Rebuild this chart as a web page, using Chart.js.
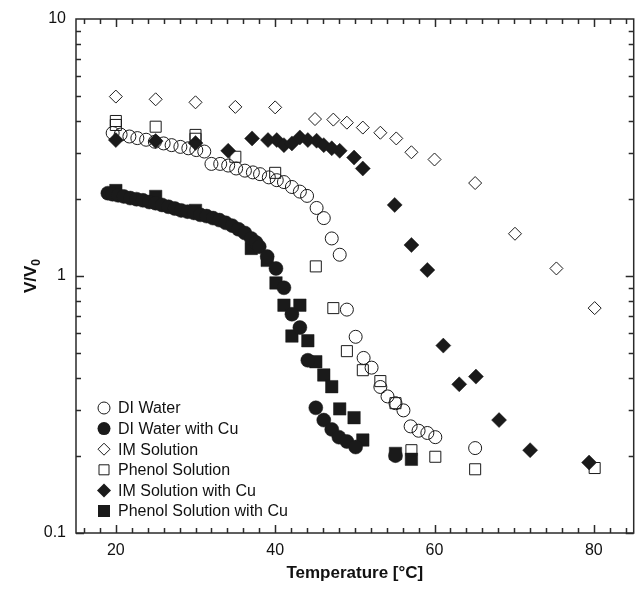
<!DOCTYPE html>
<html><head><meta charset="utf-8">
<script src="https://cdn.jsdelivr.net/npm/chart.js@4/dist/chart.umd.min.js"></script>
<style>html,body{margin:0;padding:0;background:#fff}#wrap{width:643px;height:589px}</style>
</head><body><div id="wrap"><canvas id="c" width="643" height="589"></canvas></div>
<script>
// ---- data ----
const seriesNames = ["DI Water","DI Water with Cu","IM Solution","Phenol Solution","IM Solution with Cu","Phenol Solution with Cu"];
const xTickValues = [20,40,60,80];
const yTickValues = [0.1,1,10];

const tempDI = [19.6,20.6,21.7,22.7,23.8,24.9,26.0,27.0,28.1,29.1,30.1,31.1,32.0,33.1,34.1,35.1,36.2,37.2,38.1,39.2,40.2,41.1,42.1,43.1,44.0,45.2,46.1,47.1,48.1,49.0,50.1,51.1,52.1,53.2,54.1,55.1,56.1,57.0,58.0,59.1,60.1,65.1];
const vDI    = [3.60,3.55,3.49,3.44,3.39,3.33,3.28,3.23,3.18,3.14,3.09,3.05,2.73,2.73,2.69,2.62,2.57,2.53,2.49,2.42,2.36,2.32,2.22,2.13,2.05,1.84,1.68,1.40,1.21,0.74,0.58,0.48,0.44,0.37,0.34,0.32,0.30,0.26,0.25,0.245,0.236,0.214];

const tempDICu = [19.0,19.6,20.3,21.0,21.8,22.6,23.4,24.2,25.0,25.8,26.6,27.4,28.2,29.0,29.8,30.6,31.4,32.2,33.0,33.8,34.6,35.4,36.2,37.0,37.6,38.0,39.0,40.1,41.1,42.1,43.1,44.1,45.1,46.1,47.1,48.0,49.0,50.1,55.1];
const vDICu    = [2.10,2.08,2.06,2.04,2.01,1.99,1.97,1.94,1.92,1.89,1.86,1.83,1.80,1.78,1.76,1.73,1.71,1.68,1.65,1.61,1.57,1.52,1.47,1.40,1.35,1.30,1.19,1.07,0.90,0.71,0.63,0.47,0.307,0.275,0.253,0.236,0.227,0.216,0.200];

const tempIM = [20,25,30,35,40,45,47.3,49,51,53.2,55.2,57.1,60,65.1,70.1,75.3,80.1];
const vIM    = [4.99,4.87,4.74,4.55,4.53,4.08,4.06,3.95,3.78,3.61,3.43,3.03,2.84,2.30,1.46,1.07,0.75];

const tempPh = [20,20,25,30,30,35,40,45.1,47.3,49,51,53.2,55.1,57.1,60.1,65.1,80.1];
const vPh    = [4.01,3.87,3.81,3.54,3.42,2.91,2.52,1.09,0.75,0.51,0.43,0.39,0.32,0.21,0.198,0.177,0.179];

const tempIMCu = [20,25,30,34.1,37.1,39.1,40.2,41.1,42.1,43.1,44.1,45.2,46.1,47.1,48.1,49.9,51.0,55.0,57.1,59.1,61.1,63.1,65.2,68.1,72.0,79.4];
const vIMCu    = [3.38,3.35,3.29,3.07,3.43,3.38,3.38,3.23,3.28,3.46,3.38,3.36,3.23,3.14,3.07,2.89,2.62,1.89,1.32,1.055,0.536,0.379,0.406,0.275,0.210,0.188];

const tempPhCu = [20,25,30,37.0,39.0,40.1,41.1,42.1,43.1,44.1,45.1,46.1,47.1,48.1,49.9,51.0,55.1,57.1];
const vPhCu    = [2.15,2.04,1.80,1.28,1.15,0.94,0.77,0.584,0.77,0.56,0.464,0.412,0.371,0.304,0.281,0.230,0.204,0.1935];

// ---- build ----
const pts = (xs, ys) => xs.map((x, i) => ({x, y: ys[i]}));
const INK = '#1a1a1a';
const styles = [
  {style:'circle', r:6.5, fill:false},
  {style:'circle', r:7, fill:true},
  {style:'rectRot', r:6.5, fill:false},
  {style:'rect', r:7.8, fill:false},
  {style:'rectRot', r:7.5, fill:true},
  {style:'rect', r:8.8, fill:true}
];
const allData = [pts(tempDI,vDI), pts(tempDICu,vDICu), pts(tempIM,vIM), pts(tempPh,vPh), pts(tempIMCu,vIMCu), pts(tempPhCu,vPhCu)];
const datasets = allData.map((d, i) => ({
  label: seriesNames[i],
  data: d,
  showLine: false,
  pointStyle: styles[i].style,
  pointRadius: styles[i].r,
  pointHoverRadius: styles[i].r,
  pointBorderWidth: styles[i].fill ? 0.5 : 1,
  pointBorderColor: INK,
  pointBackgroundColor: styles[i].fill ? INK : 'rgba(0,0,0,0)'
}));

const FONT = '"Liberation Sans", Arial, sans-serif';
const TARGET = { left: 76, right: 641, top: 19, bottom: 533 };

const decor = {
  id: 'decor',
  afterDraw(chart) {
    const ctx = chart.ctx, a = chart.chartArea, xs = chart.scales.x, ys = chart.scales.y;
    ctx.save();
    ctx.strokeStyle = '#2a2a2a';
    ctx.lineWidth = 1.5;
    const major = 8, minor = 5;
    ctx.beginPath();
    for (let v = 16; v <= 84; v += 2) {
      const px = Math.round(xs.getPixelForValue(v)) + 0.5;
      const L = (v % 20 === 0) ? major : minor;
      ctx.moveTo(px, a.bottom); ctx.lineTo(px, a.bottom - L);
      ctx.moveTo(px, a.top); ctx.lineTo(px, a.top + L);
    }
    [0.1, 1].forEach(dec => {
      for (let k = 1; k <= 9; k++) {
        const v = dec * k;
        const py = Math.round(ys.getPixelForValue(v)) + 0.5;
        const L = k === 1 ? major : minor;
        ctx.moveTo(a.left, py); ctx.lineTo(a.left + L, py);
        ctx.moveTo(a.right, py); ctx.lineTo(a.right - L, py);
      }
    });
    ctx.stroke();
    ctx.strokeRect(a.left, a.top, a.right - a.left, a.bottom - a.top);

    ctx.fillStyle = '#111';
    ctx.font = 'bold 17px ' + FONT;
    ctx.textAlign = 'center';
    ctx.textBaseline = 'middle';
    ctx.fillText('Temperature [°C]', (a.left + a.right) / 2, 573);

    ctx.save();
    ctx.translate(30, (a.top + a.bottom) / 2);
    ctx.rotate(-Math.PI / 2);
    ctx.font = 'bold 17px ' + FONT;
    const w1 = ctx.measureText('V/V').width;
    ctx.font = 'bold 12px ' + FONT;
    const w2 = ctx.measureText('0').width;
    const start = -(w1 + w2) / 2;
    ctx.textAlign = 'left';
    ctx.textBaseline = 'alphabetic';
    ctx.font = 'bold 17px ' + FONT;
    ctx.fillText('V/V', start, 6);
    ctx.font = 'bold 12px ' + FONT;
    ctx.fillText('0', start + w1, 10);
    ctx.restore();

    const lx = 104, tx = 118, ly0 = 408, dy = 20.6;
    ctx.font = '16px ' + FONT;
    ctx.textAlign = 'left';
    ctx.textBaseline = 'middle';
    styles.forEach((s, i) => {
      const y = ly0 + i * dy;
      ctx.beginPath();
      ctx.lineWidth = 1;
      ctx.strokeStyle = INK;
      ctx.fillStyle = INK;
      if (s.style === 'circle') {
        ctx.arc(lx, y, s.fill ? 6.5 : 6, 0, Math.PI * 2);
      } else if (s.style === 'rectRot') {
        const r = s.fill ? 7 : 6;
        ctx.moveTo(lx, y - r); ctx.lineTo(lx + r, y); ctx.lineTo(lx, y + r); ctx.lineTo(lx - r, y); ctx.closePath();
      } else {
        const h = s.fill ? 6 : 5;
        ctx.rect(lx - h, y - h, 2 * h, 2 * h);
      }
      if (s.fill) ctx.fill(); else ctx.stroke();
      ctx.fillStyle = '#111';
      ctx.fillText(seriesNames[i], tx, y + 1);
    });
    ctx.restore();
  }
};

const chart = new Chart(document.getElementById('c').getContext('2d'), {
  type: 'scatter',
  data: { datasets },
  options: {
    responsive: false,
    animation: false,
    devicePixelRatio: 1,
    layout: { padding: { left: 0, top: 19, right: 2, bottom: 0 } },
    plugins: { legend: { display: false }, tooltip: { enabled: false } },
    scales: {
      x: {
        type: 'linear', min: 15, max: 85,
        afterBuildTicks: s => { s.ticks = xTickValues.map(v => ({ value: v })); },
        afterFit: s => { s.height = 56; s.paddingLeft = 0; s.paddingRight = 0; },
        grid: { display: false, drawTicks: false },
        border: { display: false },
        ticks: { padding: 8, color: '#111', font: { family: FONT, size: 16 }, maxRotation: 0, autoSkip: false }
      },
      y: {
        type: 'logarithmic', min: 0.1, max: 10,
        afterBuildTicks: s => { s.ticks = yTickValues.map(v => ({ value: v })); },
        afterFit: s => { s.width = 76; s.paddingTop = 0; s.paddingBottom = 0; },
        grid: { display: false, drawTicks: false },
        border: { display: false },
        ticks: { padding: 10, color: '#111', font: { family: FONT, size: 16 }, autoSkip: false,
          callback: v => (v === 0.1 ? '0.1' : String(v)) }
      }
    }
  },
  plugins: [decor]
});

// calibrate the plot area to the reference frame
for (let it = 0; it < 3; it++) {
  const a = chart.chartArea, p = chart.options.layout.padding;
  const dR = a.right - TARGET.right, dL = a.left - TARGET.left, dT = a.top - TARGET.top, dB = a.bottom - TARGET.bottom;
  if (Math.abs(dR) < 0.5 && Math.abs(dL) < 0.5 && Math.abs(dT) < 0.5 && Math.abs(dB) < 0.5) break;
  p.right = p.right + dR;
  p.left = p.left - dL;
  p.top = p.top - dT;
  p.bottom = p.bottom + dB;
  chart.update('none');
}
</script></body></html>
